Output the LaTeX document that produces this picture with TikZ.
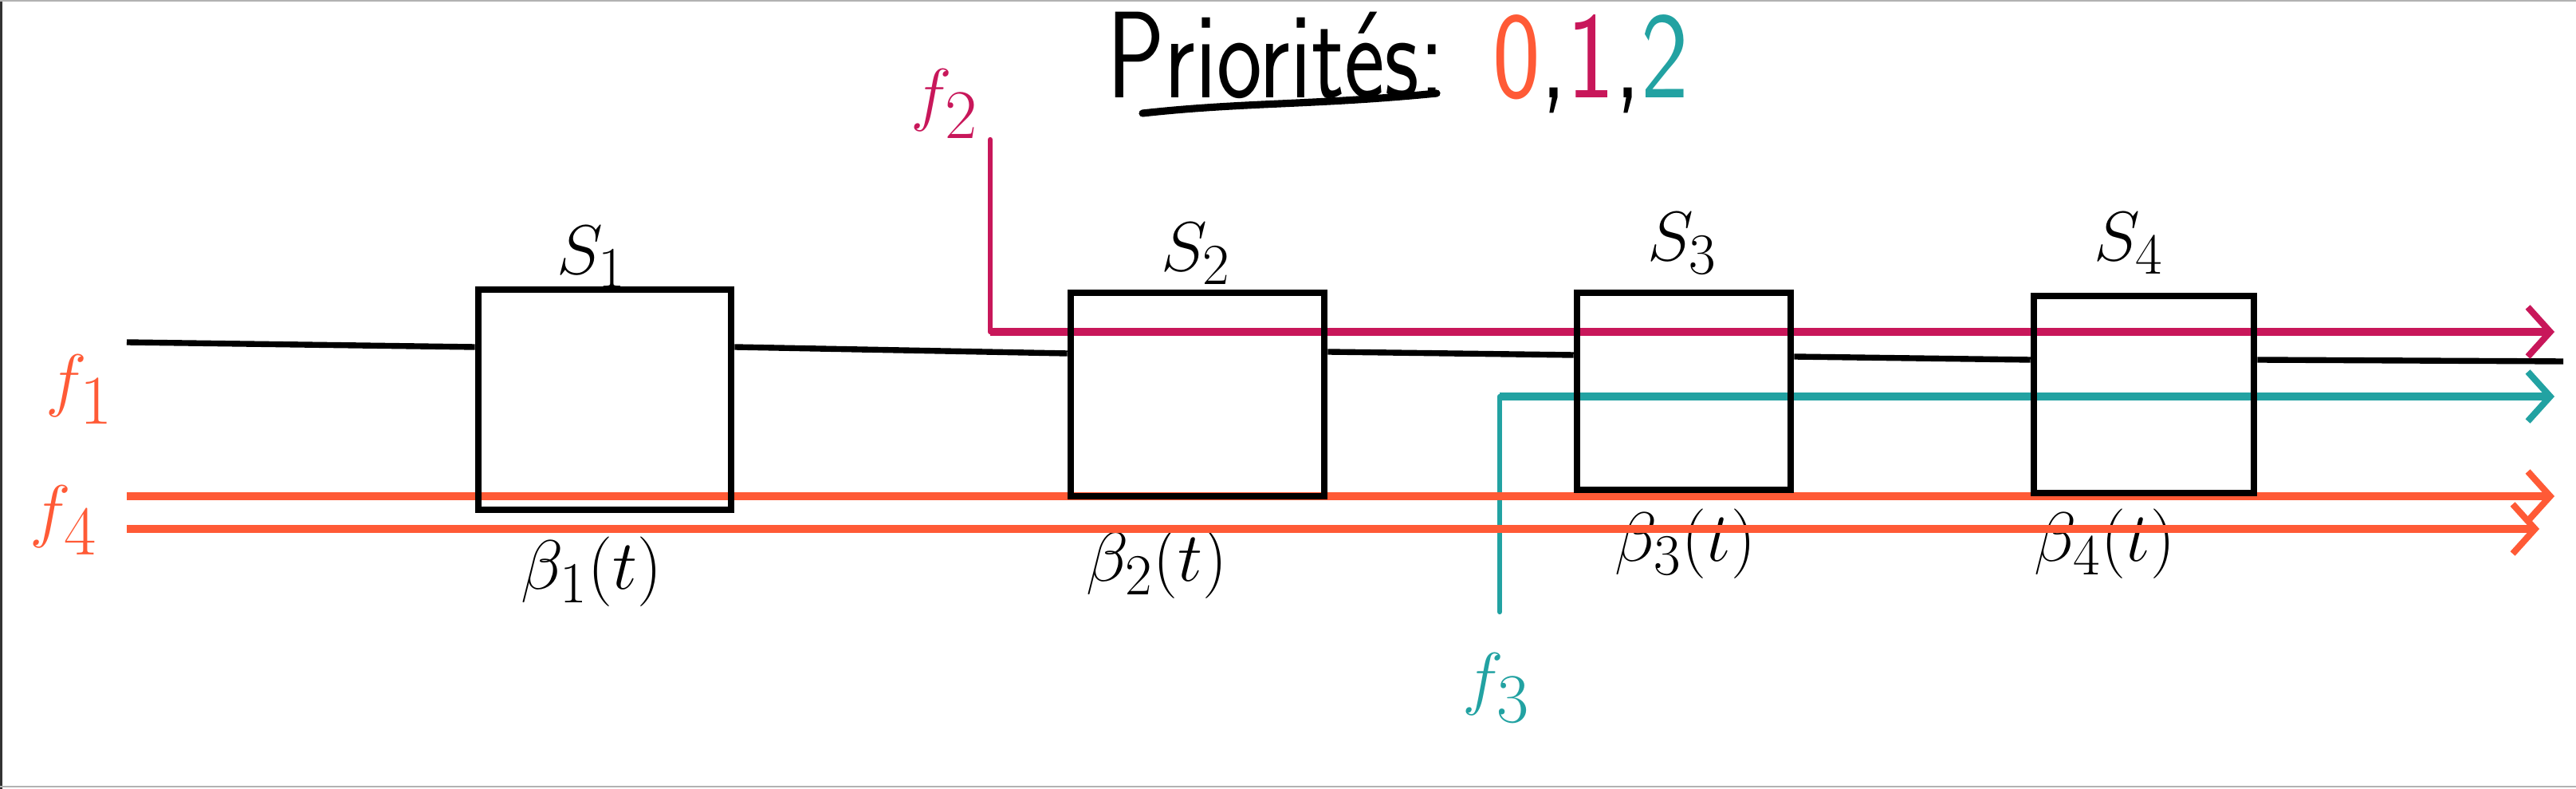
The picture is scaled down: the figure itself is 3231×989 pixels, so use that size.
\documentclass[tikz,border=0pt]{standalone}
\usepackage{fontspec}
\usetikzlibrary{arrows.meta,calc}
\definecolor{forange}{HTML}{FF5A36}
\definecolor{fcrim}{HTML}{C8175A}
\definecolor{fteal}{HTML}{22A2A2}
\begin{document}
\begin{tikzpicture}[x=0.01cm,y=-0.01cm,
  box/.style={draw=black, line width=2.4pt, minimum width=#1, inner sep=0pt},
  flow/.style={line width=2.8pt, -{Straight Barb[length=0.28cm,width=0.62cm,line width=2.3pt]}},
  riser/.style={line width=1.8pt},
  link/.style={line width=2.1pt, black},
  lab/.style={font=\fontsize{28}{32}\selectfont, inner sep=0pt},
  flab/.style={font=\fontsize{44}{48}\selectfont, inner sep=0pt},
  ttl/.style={font=\fontsize{44}{48}\selectfont\sffamily, inner sep=0pt, anchor=base},
]
\useasboundingbox (0,0) rectangle (3231,989);
% screenshot frame
\draw[line width=1.2pt, black!80] (1,0) -- (1,989);
\draw[line width=0.8pt, black!30] (0,1) -- (3231,1);
\draw[line width=0.8pt, black!30] (0,986) -- (3231,986);

% boxes (nodes)
\node[box=3.17cm, minimum height=2.76cm] (s1) at (758.5,501) {};
\node[box=3.18cm, minimum height=2.55cm] (s2) at (1502,494.5) {};
\node[box=2.68cm, minimum height=2.47cm] (s3) at (2112,490.5) {};
\node[box=2.76cm, minimum height=2.47cm] (s4) at (2689,494.5) {};

% labels
\node[lab] (ls1) at (742,322) {$S_1$};
\node[lab] (ls2) at (1500,318) {$S_2$};
\node[lab] (ls3) at (2110,305) {$S_3$};
\node[lab] (ls4) at (2670,305) {$S_4$};
\node[lab] (lb1) at (742,717) {$\beta_1(t)$};
\node[lab] (lb2) at (1451,707) {$\beta_2(t)$};
\node[lab] (lb3) at (2114,682) {$\beta_3(t)$};
\node[lab] (lb4) at (2640,682) {$\beta_4(t)$};

% title
\node[ttl] (pr) at (1600,123) {\scalebox{0.78}[1]{Priorités:}};
\node[ttl, anchor=base west] (pv) at (1872,123)
  {\scalebox{0.82}[1]{\textcolor{forange}{0},\textcolor{fcrim}{1},\textcolor{fteal}{2}}};
\coordinate (u1) at (1433,142);
\coordinate (u2) at (1802,117);
\draw[line width=2.6pt, line cap=round] (u1) .. controls (1560,128) and (1650,132) .. (u2);

% flow labels
\node[flab, text=forange] (lf1) at (100,488) {$f_1$};
\node[flab, text=forange] (lf4) at (80,652) {$f_4$};
\node[flab, text=fcrim] (lf2) at (1185,130) {$f_2$};
\node[flab, text=fteal] (lf3) at (1877,862) {$f_3$};

% black link
\coordinate (a0) at (159,429);
\coordinate (s1i) at (s1.west |- 0,435);
\coordinate (s1o) at (s1.east |- 0,435);
\coordinate (s2i) at (s2.west |- 0,443);
\coordinate (s2o) at (s2.east |- 0,441);
\coordinate (s3i) at (s3.west |- 0,445);
\coordinate (s3o) at (s3.east |- 0,447);
\coordinate (s4i) at (s4.west |- 0,451);
\coordinate (s4o) at (s4.east |- 0,451);
\coordinate (a9) at (3215,453);
\draw[link] (a0) -- (s1i);
\draw[link] (s1o) -- (s2i);
\draw[link] (s2o) -- (s3i);
\draw[link] (s3o) -- (s4i);
\draw[link] (s4o) -- (a9);

% flows
\coordinate (f2s) at (1242,175);
\coordinate (f2c) at (1242,416);
\coordinate (f2e) at (3204,416);
\draw[riser, fcrim, line cap=round] (f2s) -- (f2c);
\draw[flow, fcrim] (f2c) -- (f2e);

\coordinate (f3s) at (1881,767);
\coordinate (f3c) at (1881,497);
\coordinate (f3e) at (3204,497);
\draw[riser, fteal, line cap=round] (f3s) -- (f3c);
\draw[flow, fteal] (f3c) -- (f3e);

\coordinate (f1s) at (159,622);
\coordinate (f1e) at (3204,622);
\draw[flow, forange] (f1s) -- (f1e);
\coordinate (f4s) at (159,663);
\coordinate (f4e) at (3185,663);
\draw[flow, forange] (f4s) -- (f4e);

% redraw box outlines on top
\node[box=3.17cm, minimum height=2.76cm] at (s1) {};
\node[box=3.18cm, minimum height=2.55cm] at (s2) {};
\node[box=2.68cm, minimum height=2.47cm] at (s3) {};
\node[box=2.76cm, minimum height=2.47cm] at (s4) {};
\end{tikzpicture}
\end{document}
